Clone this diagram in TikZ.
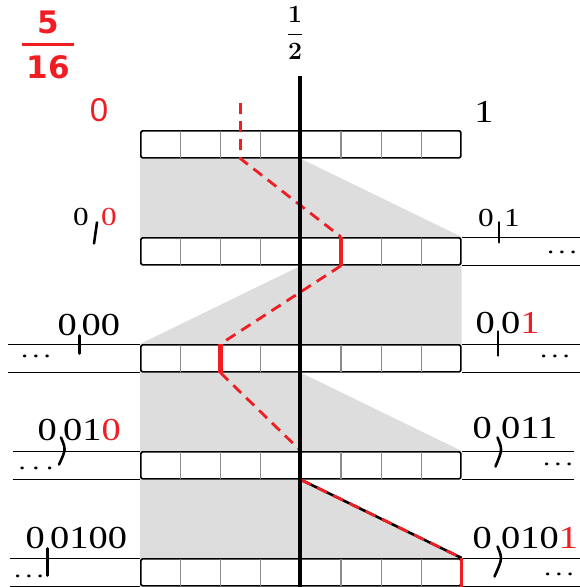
\documentclass[tikz,border=0pt]{standalone}
\usepackage{fontspec}
\usepackage{amsmath}
\newfontfamily\digitfont[FakeStretch=1.2]{Liberation Serif}
\newfontfamily\fracfont{DejaVu Sans}
\newfontfamily\plainsans{Liberation Sans}
\usetikzlibrary{positioning,calc,backgrounds}
\definecolor{hotred}{HTML}{F01E23}
\definecolor{band}{HTML}{DDDDDD}
\definecolor{cellgray}{HTML}{8C8C8C}

\begin{document}
\begin{tikzpicture}[x=1pt,y=-1pt,
  bar/.style={draw,fill=white,line width=1.7pt,rounded corners=2pt,
              minimum width=320pt,minimum height=27pt,inner sep=0pt,anchor=north west},
  cell/.style={cellgray,line width=1.3pt,shorten <=0.9pt,shorten >=0.9pt},
  lane/.style={line width=0.9pt},
  tickmark/.style={line width=2.6pt,line cap=round},
  num/.style={font=\digitfont\fontsize{32}{32}\selectfont,inner sep=0pt},
  numsm/.style={font=\digitfont\fontsize{26}{26}\selectfont,inner sep=0pt},
  trail/.style={hotred,line width=2.8pt,dash pattern=on 11pt off 7pt},
  hit/.style={hotred,line width=4.5pt},
  hitthin/.style={hotred,line width=3pt},
  more/.style={font=\digitfont\fontsize{24}{24}\selectfont,inner sep=0pt,anchor=base}
]
\useasboundingbox (0,0) rectangle (580,587);

% the five intervals
\node[bar] (bar1) at (140,130) {};
\node[bar] (bar2) at (140,237) {};
\node[bar] (bar3) at (140,344) {};
\node[bar] (bar4) at (140,451) {};
\node[bar] (bar5) at (140,558) {};
\foreach \r in {1,...,5}
  \foreach \k in {1,...,7}
    \draw[cell] ($(bar\r.north west)!\k/8!(bar\r.north east)$) -- ($(bar\r.south west)!\k/8!(bar\r.south east)$);

\begin{scope}[on background layer]
  \fill[band] (bar1.south west) -- (bar1.south) -- (bar2.north east) -- (bar2.north west) -- cycle;
  \fill[band] (bar2.south) -- (bar2.south east) -- (bar3.north east) -- (bar3.north west) -- cycle;
  \fill[band] (bar3.south west) -- (bar3.south) -- (bar4.north east) -- (bar4.north west) -- cycle;
  \fill[band] (bar4.south west) -- (bar4.south) -- (bar5.north east) -- (bar5.north west) -- cycle;
  % number lines
  \draw[lane] (bar2.north east) -- ++(120,0);
  \draw[lane] (bar2.south east) -- ++(120,0);
  \draw[lane] (bar3.north west) -- ++(-132,0);
  \draw[lane] (bar3.south west) -- ++(-132,0);
  \draw[lane] (bar3.north east) -- ++(120,0);
  \draw[lane] (bar3.south east) -- ++(120,0);
  \draw[lane] (bar4.north west) -- ++(-127,0);
  \draw[lane] (bar4.south west) -- ++(-127,0);
  \draw[lane] (bar4.north east) -- ++(112,0);
  \draw[lane] (bar4.south east) -- ++(112,0);
  \draw[lane] (bar5.north west) -- ++(-130,0);
  \draw[lane] (bar5.south west) -- ++(-130,0);
  \draw[lane] (bar5.north east) -- ++(118,0);
  \draw[lane] (bar5.south east) -- ++(118,0);
\end{scope}

% position of 5/16 in each interval
\foreach \r/\f in {1/.3125,2/.625,3/.25,4/.5,5/1} {
  \coordinate (h\r t) at ($(bar\r.north west)!\f!(bar\r.north east)$);
  \coordinate (h\r b) at ($(bar\r.south west)!\f!(bar\r.south east)$);
}
\draw[trail] ($(h1t)+(0,-27)$) -- (h1b) -- (h2t);
\draw[hit] (h2t) -- (h2b);
\draw[trail] (h2b) -- (h3t);
\draw[hit] (h3t) -- (h3b);
\draw[trail] (h3b) -- (h4t);
\draw[hitthin] (h4t) -- (h4b);
\draw[line width=2.6pt] (h4b) -- (h5t);
\draw[trail] (h4b) -- (h5t);
\draw[hitthin] (h5t) -- (h5b);

% the middle 1/2
\coordinate (axtop) at (300,76);
\coordinate (axbot) at (300,587);
\draw[line width=3.4pt] (axtop) -- (axbot);
\node[font=\fontsize{29}{29}\selectfont] (halfmark) at (295,33) {$\boldsymbol{\dfrac{1}{2}}$};

\node[font=\fracfont\bfseries\fontsize{31}{31}\selectfont,text=hotred] (target) at (48,45)
  {$\genfrac{}{}{3.2pt}{0}{\text{5}}{\hspace{4pt}\text{16}\hspace{4pt}}$};

% end labels
\node[font=\plainsans\fontsize{33}{33}\selectfont,text=hotred,inner sep=0pt] (zero) at (99,110) {0};
\node[num] (one) at (484,112) {1};

\node[numsm,anchor=base east] (p2l) at (89,225) {0};
\node[numsm,right=12pt of p2l] (s2l) {\textcolor{hotred}{0}};
\node[numsm,anchor=base east] (p2r) at (494,226) {0};
\node[numsm,right=10pt of p2r] (s2r) {1};
\node[num,anchor=base east] (p3l) at (77,335) {0};
\node[num,right=4.5pt of p3l] (s3l) {00};
\node[num,anchor=base east] (p3r) at (495,333) {0};
\node[num,right=6pt of p3r] (s3r) {0\textcolor{hotred}{1}};
\node[num,anchor=base east] (p4l) at (57,440) {0};
\node[num,right=6pt of p4l] (s4l) {01\textcolor{hotred}{0}};
\node[num,anchor=base east] (p4r) at (492,438) {0};
\node[num,right=9pt of p4r] (s4r) {011};
\node[num,anchor=base east] (p5l) at (45,548) {0};
\node[num,right=5pt of p5l] (s5l) {0100};
\node[num,anchor=base east] (p5r) at (492,548) {0};
\node[num,right=9pt of p5r] (s5r) {010\textcolor{hotred}{1}};

% the commas
\draw[tickmark] ($(p2l.south east)!.5!(s2l.south west)+(2,-3)$) -- ++(-3,21);
\draw[tickmark] ($(p2r.south east)!.5!(s2r.south west)+(0,-4)$) -- ++(0,20);
\draw[tickmark] ($(p3l.south east)!.5!(s3l.south west)+(0,0)$) -- ++(0,18);
\draw[tickmark] ($(p3r.south east)!.5!(s3r.south west)+(0,-2)$) -- ++(0,24);
\draw[tickmark] ($(p4l.south east)!.5!(s4l.south west)+(1,-3)$) .. controls +(5,12) .. ++(-2,27);
\draw[tickmark] ($(p4r.south east)!.5!(s4r.south west)+(1,-1)$) .. controls +(5,12) .. ++(-2,29);
\draw[tickmark] ($(p5l.south east)!.5!(s5l.south west)+(0,0)$) -- ++(0,27);
\draw[tickmark] ($(p5r.south east)!.5!(s5r.south west)+(1,-2)$) .. controls +(5,12) .. ++(-3,30);

% continuing dots
\node[more] (d2r) at (562,253) {.\,.\,.};
\node[more] (d3l) at (36,357) {.\,.\,.};
\node[more] (d3r) at (555,357) {.\,.\,.};
\node[more] (d4l) at (36,469) {.\;.\;.};
\node[more] (d4r) at (558,465) {.\,.\,.};
\node[more] (d5l) at (29,577) {.\,.\,.};
\node[more] (d5r) at (559,575) {.\,.\,.};
\end{tikzpicture}
\end{document}
